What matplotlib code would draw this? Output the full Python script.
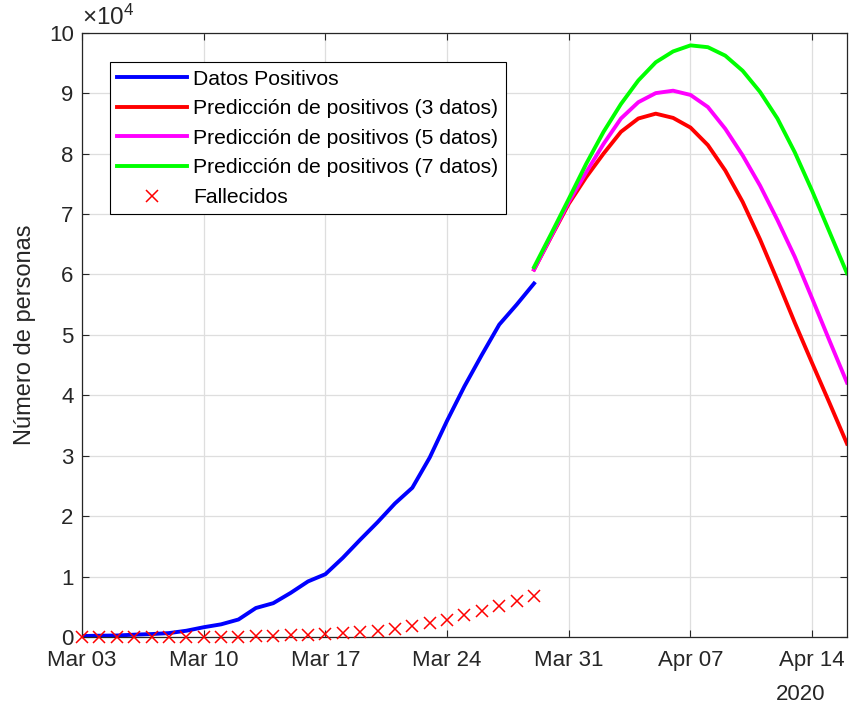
import datetime as dt
import matplotlib
matplotlib.use("Agg")
import matplotlib.pyplot as plt
import matplotlib.dates as mdates
from matplotlib.ticker import FuncFormatter

plt.rcParams["font.family"] = ["Liberation Sans", "DejaVu Sans"]
plt.rcParams["mathtext.fontset"] = "custom"
plt.rcParams["mathtext.rm"] = "Liberation Sans"

# datos diarios (Mar 03 - Mar 29)
start = dt.date(2020, 3, 3)
positivos = [160, 220, 250, 390, 490, 650, 1040, 1620, 2100, 2900, 4800, 5600,
             7300, 9200, 10400, 13100, 16100, 19000, 22100, 24700, 29700, 35800,
             41500, 46700, 51700, 55000, 58500]
fallecidos = [2, 3, 5, 8, 10, 17, 28, 35, 54, 84, 133, 195, 289, 342, 533, 623,
              830, 1043, 1375, 1772, 2311, 2808, 3647, 4365, 5138, 5982, 6803]

# predicciones (Mar 29 - Apr 16)
pred_start = dt.date(2020, 3, 29)
pred3 = [60800, 66300, 71700, 76100, 80000, 83600, 85800, 86600, 85900, 84300,
         81400, 77200, 72000, 65800, 59000, 52000, 45300, 38700, 32000]
pred5 = [60800, 66400, 72000, 76900, 81600, 85800, 88500, 90000, 90400, 89700,
         87700, 84100, 79700, 74700, 69000, 62900, 56000, 49000, 42100]
pred7 = [61200, 66800, 72500, 78300, 83600, 88200, 92100, 95100, 96900, 97900,
         97600, 96200, 93700, 90200, 85800, 80200, 73800, 67000, 60200]

dias = [start + dt.timedelta(days=i) for i in range(len(positivos))]
dias_pred = [pred_start + dt.timedelta(days=i) for i in range(len(pred3))]

fig = plt.figure(figsize=(8.49, 7.06), dpi=100)
ax = fig.add_axes([0.0966, 0.0977, 0.901, 0.856])

lw = 2.8
ax.plot(dias, positivos, color=(0, 0, 1), lw=lw, label="Datos Positivos")
ax.plot(dias_pred, pred3, color=(1, 0, 0), lw=lw, label="Predicción de positivos (3 datos)")
ax.plot(dias_pred, pred5, color=(1, 0, 1), lw=lw, label="Predicción de positivos (5 datos)")
ax.plot(dias_pred, pred7, color=(0, 1, 0), lw=lw, label="Predicción de positivos (7 datos)")
ax.plot(dias, fallecidos, "x", color=(1, 0, 0), ms=8.5, mew=1.1, ls="none",
        label="Fallecidos", clip_on=False, zorder=5)

ax.set_xlim(dt.date(2020, 3, 3), dt.date(2020, 4, 16))
ax.set_ylim(0, 100000)
ax.set_yticks(range(0, 100001, 10000))
ax.yaxis.set_major_formatter(FuncFormatter(lambda v, p: f"{v / 1e4:g}"))
ticks = [dt.date(2020, 3, 3) + dt.timedelta(days=7 * i) for i in range(7)]
ax.set_xticks(ticks)
ax.xaxis.set_major_formatter(mdates.DateFormatter("%b %d"))

dark = "#262626"
ax.tick_params(direction="in", length=5, width=0.8, colors=dark, labelsize=16,
               top=True, right=True, pad=9)
ax.tick_params(axis="y", pad=6)
for s in ax.spines.values():
    s.set_color(dark)
    s.set_linewidth(0.9)
ax.grid(True, color="#dedede", lw=0.9)
ax.set_axisbelow(True)

ax.set_ylabel("Número de personas", fontsize=17, color=dark, labelpad=9)
ax.text(0, 1.004, r"$\mathregular{\times10^{4}}$", transform=ax.transAxes,
        fontsize=17.5, color=dark, ha="left", va="bottom")
ax.annotate("2020", xy=(mdates.date2num(dt.date(2020, 4, 14)), 0),
            xycoords=("data", "axes fraction"), xytext=(-36, -47),
            textcoords="offset pixels", ha="left", va="top", fontsize=16, color=dark)

leg = ax.legend(loc="upper left", bbox_to_anchor=(0.0366, 0.951), borderaxespad=0,
                fontsize=15.2, handlelength=3.3, handletextpad=0.3, labelspacing=0.5,
                borderpad=0.35, fancybox=False, framealpha=1, edgecolor="black")
leg.get_frame().set_linewidth(0.8)
for t in leg.get_texts():
    t.set_color("black")

fig.savefig("out.png", dpi=100)
